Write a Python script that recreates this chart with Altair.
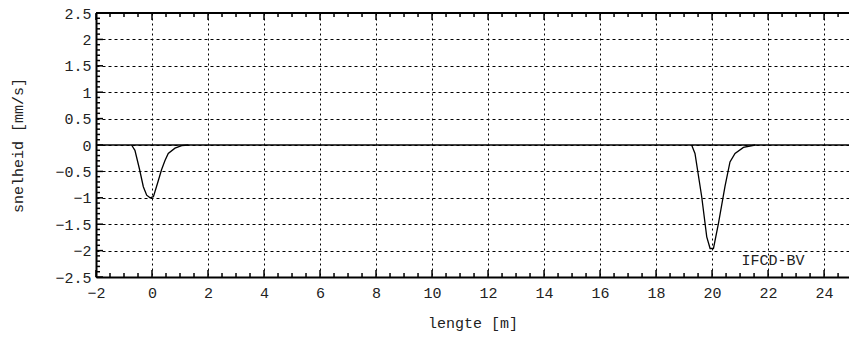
import altair as alt
import pandas as pd
import numpy as np

# Dip near x = 0
dip1_x = [-0.73, -0.61, -0.45, -0.31, -0.19, -0.07, 0.05, 0.2, 0.34, 0.46, 0.58, 0.82, 1.06, 1.3]
dip1_y = [0.0, -0.1, -0.45, -0.79, -0.95, -1.0, -0.98, -0.72, -0.47, -0.3, -0.16, -0.06, -0.01, 0.0]
# Dip near x = 20
dip2_x = [19.27, 19.39, 19.63, 19.81, 19.93, 20.05, 20.23, 20.46, 20.64, 20.82, 21.12, 21.54]
dip2_y = [0.0, -0.16, -0.98, -1.74, -1.96, -1.96, -1.48, -0.79, -0.32, -0.16, -0.045, 0.0]

x_major = [-2, 0, 2, 4, 6, 8, 10, 12, 14, 16, 18, 20, 22, 24]
x_minor = [v / 2 for v in range(-4, 50) if v % 4 != 0]
y_major = [-2.5, -2, -1.5, -1, -0.5, 0, 0.5, 1, 1.5, 2, 2.5]
y_minor = [round(v / 10, 1) for v in range(-25, 26) if v % 5 != 0]

label_text = ["IFCD-BV"]
label_x = [22.18]
label_y = [-2.17]

X_DOMAIN = [-2, 24.89]
Y_DOMAIN = [-2.5, 2.5]
W, H = 753, 264
FONT = "Liberation Mono"
FS = 15

df = pd.DataFrame({
    "x": dip1_x + dip2_x,
    "y": dip1_y + dip2_y,
    "s": ["a"] * len(dip1_x) + ["b"] * len(dip2_x),
})

xs = alt.Scale(domain=X_DOMAIN, nice=False, zero=False)
ys = alt.Scale(domain=Y_DOMAIN, nice=False, zero=False)

x_axis = alt.Axis(values=x_major, tickCount=60, format=".3~g", grid=True, gridDash=[2, 3],
                  gridColor="black", gridOpacity=1,
                  ticks=False, domain=True, domainColor="black", domainWidth=2,
                  labelFont=FONT, labelFontSize=FS, labelColor="#222", labelPadding=8,
                  labelOverlap=False,
                  title="lengte [m]", titleFont=FONT, titleFontSize=FS, titleFontWeight="normal",
                  titleColor="#222", titlePadding=15, labelFlush=False)
y_axis = alt.Axis(values=y_major, tickCount=60, format=".3~g", grid=True, gridDash=[3, 3],
                  gridColor="black", gridOpacity=1,
                  ticks=False, domain=True, domainColor="black", domainWidth=2,
                  labelFont=FONT, labelFontSize=FS, labelColor="#222", labelPadding=5,
                  labelOverlap=False,
                  title="snelheid [mm/s]", titleFont=FONT, titleFontSize=FS, titleFontWeight="normal",
                  titleColor="#222", titlePadding=29, labelFlush=False)

curves = alt.Chart(df).mark_line(color="black", strokeWidth=1.3).encode(
    x=alt.X("x:Q", scale=xs, axis=x_axis),
    y=alt.Y("y:Q", scale=ys, axis=y_axis),
    detail="s:N",
)

zero = alt.Chart(pd.DataFrame({"y": [0]})).mark_rule(color="black", strokeWidth=1.5).encode(
    y=alt.Y("y:Q", scale=ys), x=alt.value(0), x2=alt.value(W)
)

top_border = alt.Chart(pd.DataFrame({"y": [Y_DOMAIN[1]]})).mark_rule(color="black", strokeWidth=2).encode(
    y=alt.Y("y:Q", scale=ys), x=alt.value(0), x2=alt.value(W)
)

def xticks(vals, length):
    d = pd.DataFrame({"x": vals})
    bottom = alt.Chart(d).mark_rule(color="black", strokeWidth=1.5).encode(
        x=alt.X("x:Q", scale=xs), y=alt.value(H), y2=alt.value(H - length))
    top = alt.Chart(d).mark_rule(color="black", strokeWidth=1.5).encode(
        x=alt.X("x:Q", scale=xs), y=alt.value(0), y2=alt.value(length))
    return [bottom, top]

def yticks(vals, length):
    d = pd.DataFrame({"y": vals})
    left = alt.Chart(d).mark_rule(color="black", strokeWidth=1.5).encode(
        y=alt.Y("y:Q", scale=ys), x=alt.value(0), x2=alt.value(length))
    return [left]

label = alt.Chart(pd.DataFrame({"t": label_text, "x": label_x, "y": label_y})).mark_text(
    font=FONT, fontSize=FS, color="#222", align="center", baseline="middle"
).encode(x=alt.X("x:Q", scale=xs), y=alt.Y("y:Q", scale=ys), text="t:N")

layers = [curves, zero, top_border] + xticks(x_major, 7) + xticks(x_minor, 4) + yticks(y_major, 7) + yticks(y_minor, 4) + [label]

chart = alt.layer(*layers).properties(
    width=W, height=H,
    autosize=alt.AutoSizeParams(type="none"),
    padding={"left": 96, "top": 13, "right": 0, "bottom": 63},
    background="white",
).configure_view(stroke=None)

chart.save("out.html", embed_options={"renderer": "svg", "actions": False})
